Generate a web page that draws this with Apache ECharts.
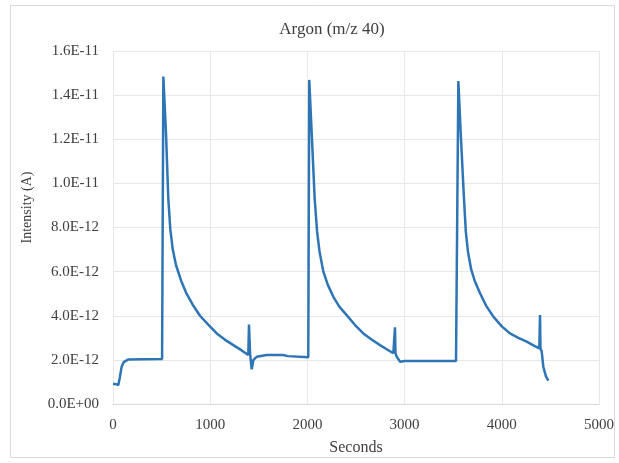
<!DOCTYPE html>
<html>
<head>
<meta charset="utf-8">
<script src="https://cdn.jsdelivr.net/npm/echarts@6/dist/echarts.min.js"></script>
<style>
html,body{margin:0;padding:0;background:#fff;}
#c{width:619px;height:463px;}
</style>
</head>
<body>
<div id="c"></div>
<script>
// Time in seconds
var seconds = [0, 30, 55, 70, 89, 110, 123, 160, 300, 505,
  518, 545, 569, 590, 615, 648, 700, 757, 820, 895, 980, 1067, 1150, 1238, 1320, 1392,
  1399, 1410, 1427, 1445, 1478, 1581, 1750, 1800, 2009,
  2019, 2044, 2075, 2100, 2125, 2164, 2210, 2267, 2330, 2404, 2490, 2575, 2660, 2747, 2820, 2884, 2898,
  2901, 2906, 2919, 2953, 3000, 3261, 3529,
  3553, 3577, 3611, 3630, 3652, 3685, 3720, 3776, 3840, 3913, 4000, 4084, 4170, 4256, 4320, 4386,
  4393, 4398, 4410, 4427, 4455, 4479];
// Intensity in amperes
var intensity = [0.92e-12, 0.90e-12, 0.86e-12, 1.20e-12, 1.69e-12, 1.90e-12, 1.96e-12, 2.02e-12, 2.03e-12, 2.04e-12,
  14.84e-12, 12.3e-12, 9.3e-12, 7.9e-12, 7.0e-12, 6.3e-12, 5.6e-12, 5.0e-12, 4.5e-12, 4.0e-12, 3.6e-12, 3.2e-12, 2.92e-12, 2.67e-12, 2.44e-12, 2.22e-12,
  3.6e-12, 2.3e-12, 1.57e-12, 2.0e-12, 2.14e-12, 2.22e-12, 2.22e-12, 2.17e-12, 2.12e-12,
  14.69e-12, 12.3e-12, 9.3e-12, 7.8e-12, 6.9e-12, 6.0e-12, 5.4e-12, 4.86e-12, 4.4e-12, 4.03e-12, 3.58e-12, 3.2e-12, 2.92e-12, 2.67e-12, 2.47e-12, 2.30e-12, 2.26e-12,
  3.48e-12, 2.3e-12, 2.14e-12, 1.92e-12, 1.95e-12, 1.95e-12, 1.95e-12,
  14.64e-12, 12.3e-12, 9.3e-12, 7.8e-12, 6.9e-12, 6.1e-12, 5.6e-12, 5.02e-12, 4.45e-12, 3.96e-12, 3.52e-12, 3.2e-12, 3.0e-12, 2.83e-12, 2.67e-12, 2.52e-12,
  4.03e-12, 2.5e-12, 2.4e-12, 1.69e-12, 1.24e-12, 1.06e-12];

var titleText = 'Argon (m/z 40)';
var xName = 'Seconds';
var yName = 'Intensity (A)';

var pts = seconds.map(function (s, i) { return [s, intensity[i]]; });

function sci(v) {
  var s = Number(v).toExponential(1).toUpperCase();
  var parts = s.split('E');
  var sign = parts[1].charAt(0);
  var digits = parts[1].slice(1);
  if (digits.length < 2) digits = '0' + digits;
  return parts[0] + 'E' + sign + digits;
}

var FONT = '"Liberation Serif", "Times New Roman", serif';
var chart = echarts.init(document.getElementById('c'), null, {renderer: 'canvas'});
chart.setOption({
  animation: false,
  backgroundColor: '#ffffff',
  title: {
    text: titleText,
    left: 327, top: 16, textAlign: 'center',
    textStyle: {fontFamily: FONT, fontSize: 17, fontWeight: 'normal', color: '#404040'}
  },
  graphic: [{
    type: 'rect', shape: {x: 10.5, y: 5.5, width: 604, height: 452},
    style: {fill: 'none', stroke: '#d9d9d9', lineWidth: 1}, silent: true, z: -1
  }],
  grid: {left: 113, right: 20, top: 51, bottom: 59, containLabel: false, outerBoundsMode: 'none'},
  xAxis: {
    type: 'value', min: 0, max: 5000, interval: 1000,
    name: xName, nameLocation: 'middle', nameGap: 36,
    nameTextStyle: {fontFamily: FONT, fontSize: 16, color: '#404040'},
    axisLine: {show: true, lineStyle: {color: '#d9d9d9'}},
    axisTick: {show: false},
    axisLabel: {fontFamily: FONT, fontSize: 15, color: '#404040', margin: 14,
      formatter: function (v) { return String(v); }},
    splitLine: {show: true, lineStyle: {color: '#e8e8e8', width: 1}}
  },
  yAxis: {
    type: 'value', min: 0, max: 1.6e-11, interval: 2e-12,
    name: yName, nameLocation: 'middle', nameGap: 79, nameRotate: 90,
    nameTextStyle: {fontFamily: FONT, fontSize: 14, color: '#404040', padding: [0, 0, 0, 40]},
    axisLine: {show: false},
    axisTick: {show: false},
    axisLabel: {fontFamily: FONT, fontSize: 15, color: '#404040', margin: 14, formatter: sci},
    splitLine: {show: true, lineStyle: {color: '#e8e8e8', width: 1}}
  },
  series: [{
    type: 'line', data: pts, showSymbol: false, smooth: false,
    lineStyle: {color: '#2e75b6', width: 2.5},
    itemStyle: {color: '#2e75b6'}
  }]
});
</script>
</body>
</html>
